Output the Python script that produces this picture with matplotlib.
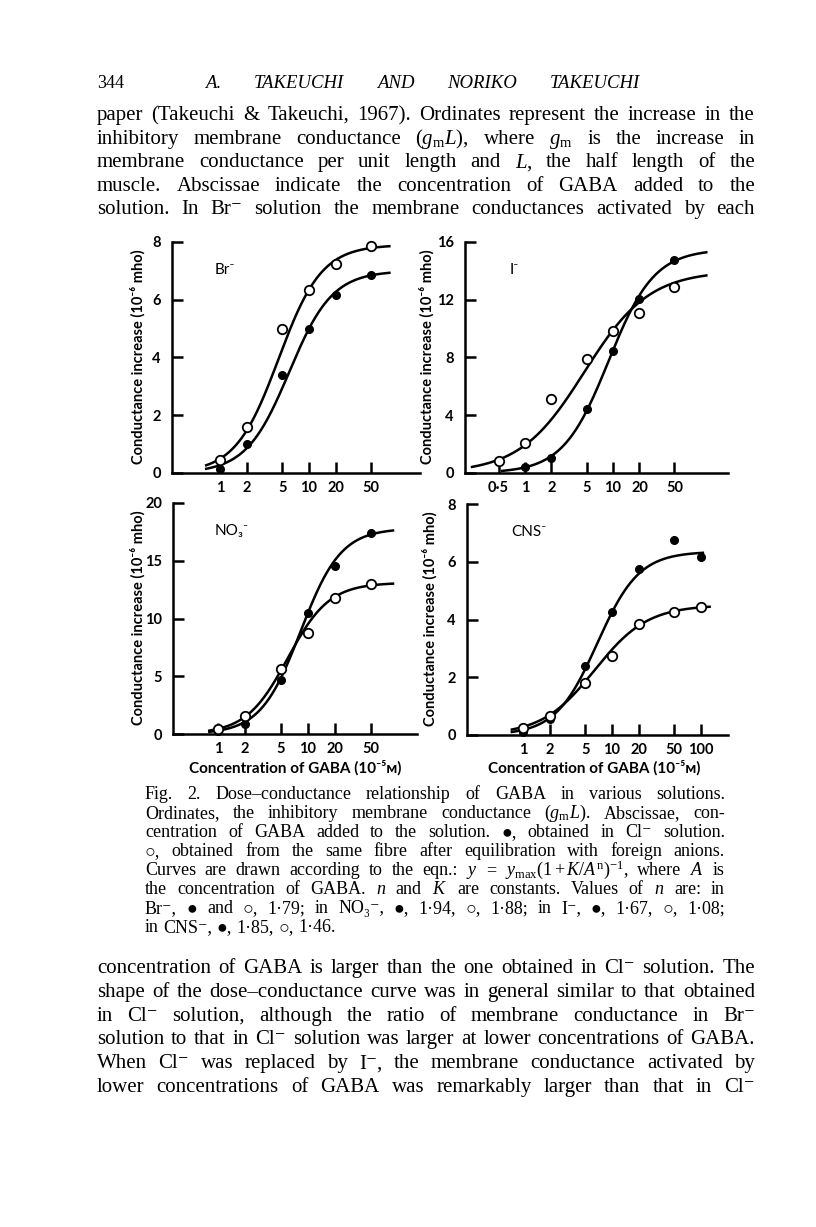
import numpy as np
import matplotlib
matplotlib.use('Agg')
import matplotlib.pyplot as plt

W, H = 816, 1227
SANS = ['Lato', 'DejaVu Sans']
SERIF = ['Liberation Serif', 'DejaVu Serif', 'DejaVu Sans']

plt.rcParams['mathtext.fontset'] = 'custom'
plt.rcParams['mathtext.rm'] = 'Liberation Serif'
plt.rcParams['mathtext.it'] = 'Liberation Serif:italic'

# --- data (conc. in 10^-5 M, conductance in 10^-6 mho) ---
br_conc = [1, 2, 5, 10, 20, 50]
br_open = [0.45, 1.6, 5.0, 6.35, 7.25, 7.85]
br_fill = [0.15, 1.0, 3.4, 5.0, 6.15, 6.85]

i_conc_open = [0.5, 1, 2, 5, 10, 20, 50]
i_open = [0.85, 2.05, 5.15, 7.9, 9.85, 11.05, 12.85]
i_conc_fill = [1, 2, 5, 10, 20, 50]
i_fill = [0.4, 1.05, 4.45, 8.45, 12.05, 14.75]

no3_conc = [1, 2, 5, 10, 20, 50]
no3_open = [0.4, 1.6, 5.6, 8.75, 11.8, 12.95]
no3_fill = [0.3, 0.85, 4.7, 10.5, 14.55, 17.4]

cns_conc = [1, 2, 5, 10, 20, 50, 100]
cns_open = [0.25, 0.65, 1.8, 2.75, 3.85, 4.25, 4.45]
cns_fill = [0.1, 0.55, 2.4, 4.25, 5.75, 6.75, 6.15]

# curve parameters for y = ymax / (1 + K / A**n), and the range drawn
br_open_fit = (7.9, 15.05, 1.79, 0.7, 80)
br_fill_fit = (7.0, 24.7, 1.79, 0.7, 80)
i_open_fit = (14.0, 6.26, 1.18, 0.25, 115)
i_fill_fit = (15.5, 38.5, 1.67, 0.55, 115)
no3_open_fit = (13.1, 28.5, 1.88, 0.8, 88)
no3_fill_fit = (17.8, 60.5, 1.94, 0.8, 88)
cns_open_fit = (4.5, 15.0, 1.46, 0.75, 125)
cns_fill_fit = (6.35, 35.0, 1.85, 0.75, 105)

ticks_main = [1, 2, 5, 10, 20, 50]
ticks_i = [0.5, 1, 2, 5, 10, 20, 50]
ticks_cns = [1, 2, 5, 10, 20, 50, 100]

ylabel = 'Conductance increase (10⁻⁶ mho)'
xlabel = 'Concentration of GABA (10⁻⁵ᴍ)'

header_title = 'A. TAKEUCHI AND NORIKO TAKEUCHI'
top_lines = [
    'paper (Takeuchi & Takeuchi, 1967). Ordinates represent the increase in the',
    r'inhibitory membrane conductance ($g_\mathrm{m}L$), where $g_\mathrm{m}$ is the increase in',
    r'membrane conductance per unit length and $L$, the half length of the',
    'muscle. Abscissae indicate the concentration of GABA added to the',
    'solution. In Br⁻ solution the membrane conductances activated by each',
]
caption_lines = [
    'Fig. 2. Dose–conductance relationship of GABA in various solutions.',
    r'Ordinates, the inhibitory membrane conductance ($g_\mathrm{m}L$). Abscissae, con-',
    'centration of GABA added to the solution. ●, obtained in Cl⁻ solution.',
    '○, obtained from the same fibre after equilibration with foreign anions.',
    r'Curves are drawn according to the eqn.: $y$ = $y_\mathrm{max}(1+K/A^\mathrm{n})^{-1}$, where $A$ is',
    r'the concentration of GABA. $n$ and $K$ are constants. Values of $n$ are: in',
    'Br⁻, ● and ○, 1·79; in NO₃⁻, ●, 1·94, ○, 1·88; in I⁻, ●, 1·67, ○, 1·08;',
    'in CNS⁻, ●, 1·85, ○, 1·46.',
]
bottom_lines = [
    'concentration of GABA is larger than the one obtained in Cl⁻ solution. The',
    'shape of the dose–conductance curve was in general similar to that obtained',
    'in Cl⁻ solution, although the ratio of membrane conductance in Br⁻',
    'solution to that in Cl⁻ solution was larger at lower concentrations of GABA.',
    'When Cl⁻ was replaced by I⁻, the membrane conductance activated by',
    'lower concentrations of GABA was remarkably larger than that in Cl⁻',
]

fig = plt.figure(figsize=(W / 100, H / 100), dpi=100)
renderer = fig.canvas.get_renderer()


def px_axes(left, top, right, bottom):
    return fig.add_axes([left / W, 1 - bottom / H, (right - left) / W, (bottom - top) / H])


def curve(ax, fit):
    ymax, K, n, a0, a1 = fit
    a = np.logspace(np.log10(a0), np.log10(a1), 300)
    ax.plot(a, ymax / (1 + K / a ** n), color='black', lw=1.8, zorder=2)


def panel(box, xlim, ylim, yticks, xticks, name, fits, opens, fills):
    ax = px_axes(*box)
    ax.set_xscale('log')
    ax.set_xlim(*xlim)
    ax.set_ylim(*ylim)
    for f in fits:
        curve(ax, f)
    for xs, ys in fills:
        ax.plot(xs, ys, 'o', color='black', ms=5.5, zorder=3, clip_on=False)
    for xs, ys in opens:
        ax.plot(xs, ys, 'o', mfc='white', mec='black', mew=1.3, ms=6.8, zorder=4, clip_on=False)
    ax.set_xticks(xticks, [str(t).replace('.', '·') for t in xticks])
    ax.xaxis.set_minor_locator(matplotlib.ticker.NullLocator())
    ax.set_yticks(yticks, [str(t) for t in yticks])
    for s in ['top', 'right']:
        ax.spines[s].set_visible(False)
    for s in ['left', 'bottom']:
        ax.spines[s].set_linewidth(1.8)
    ax.tick_params(direction='in', length=8, width=1.8, pad=6)
    ax.tick_params(axis='y', pad=8)
    for lab in ax.get_xticklabels() + ax.get_yticklabels():
        lab.set_family(SANS)
        lab.set_fontweight('bold')
        lab.set_fontsize(10.5)
    ax.patch.set_alpha(0)
    ax.text(0.17, 0.88, name, transform=ax.transAxes, family=SANS, fontsize=11,
            va='center', ha='left')
    return ax


panel((172, 242, 420, 473), (0.289, 176.7), (0, 8), [0, 2, 4, 6, 8], ticks_main, 'Br⁻',
      [br_open_fit, br_fill_fit], [(br_conc, br_open)], [(br_conc, br_fill)])
panel((465, 242, 728, 473), (0.208, 202.8), (0, 16), [0, 4, 8, 12, 16], ticks_i, 'I⁻',
      [i_open_fit, i_fill_fit], [(i_conc_open, i_open)], [(i_conc_fill, i_fill)])
panel((173, 503, 417, 734), (0.316, 162.6), (0, 20), [0, 5, 10, 15, 20], ticks_main, 'NO₃⁻',
      [no3_open_fit, no3_fill_fit], [(no3_conc, no3_open)], [(no3_conc, no3_fill)])
panel((467, 504, 728, 735), (0.235, 201), (0, 8), [0, 2, 4, 6, 8], ticks_cns, 'CNS⁻',
      [cns_open_fit, cns_fill_fit], [(cns_conc, cns_open)], [(cns_conc, cns_fill)])

for x, y in [(138, 357), (427, 357), (138, 618), (430, 619)]:
    fig.text(x / W, 1 - y / H, ylabel, rotation=90, family=SANS, fontsize=10.5,
             fontweight='bold', ha='center', va='center')
for x in [295, 594]:
    fig.text(x / W, 1 - 768 / H, xlabel, family=SANS, fontsize=11, fontweight='bold',
             ha='center', va='center')


# --- page text, justified word by word ---
def word_widths(words, size, style):
    objs = [fig.text(0, 0, w, fontsize=size, family=SERIF, style=style) for w in words]
    ws = [o.get_window_extent(renderer).width for o in objs]
    for o in objs:
        o.remove()
    return ws


def fit_size(lines, x0, x1, size, style='normal'):
    widest = 0
    for line in lines:
        words = line.split(' ')
        widest = max(widest, sum(word_widths(words, size, style)) + 0.25 * size * (len(words) - 1))
    return size * min(1.0, (x1 - x0) / widest)


def put_line(line, x0, x1, base, size, justify=True, style='normal'):
    words = line.split(' ')
    ws = word_widths(words, size, style)
    if justify and len(words) > 1:
        gap = (x1 - x0 - sum(ws)) / (len(words) - 1)
    else:
        gap = size * 0.35
    x = x0
    for w, wd in zip(words, ws):
        fig.text(x / W, 1 - base / H, w, fontsize=size, family=SERIF, style=style,
                 va='baseline', ha='left')
        x += wd + gap


fig.text(97 / W, 1 - 88 / H, '344', fontsize=13, family=SERIF, va='baseline')
put_line(header_title, 205, 640, 88, 13.5, style='italic')

s_body = fit_size(top_lines + bottom_lines, 97, 755, 15)
for k, line in enumerate(top_lines):
    put_line(line, 97, 755, 120 + 23.6 * k, s_body)
for k, line in enumerate(bottom_lines):
    put_line(line, 97, 755, 973 + 23.8 * k, s_body)

s_cap = fit_size(caption_lines, 145, 725, 13)
for k, line in enumerate(caption_lines):
    put_line(line, 145, 725, 799 + 19.0 * k, s_cap, justify=(k < len(caption_lines) - 1))

fig.savefig('out.png', dpi=100)
